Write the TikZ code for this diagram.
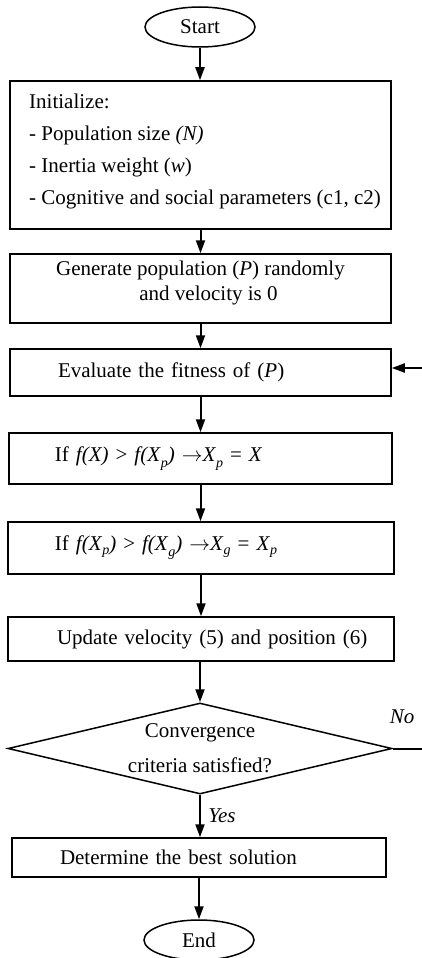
\documentclass[tikz,border=0pt]{standalone}
\usepackage{fontspec}
\setmainfont{Liberation Serif}
\usetikzlibrary{arrows.meta,shapes.geometric}
\newcommand{\lsub}[1]{\raisebox{-6pt}{\fontsize{14}{14}\selectfont\textit{#1}}}
\newcommand{\nsub}[1]{\raisebox{-4pt}{\fontsize{14}{14}\selectfont\textit{#1}}}
\begin{document}
\begin{tikzpicture}[x=1pt,y=-1pt,
  font=\fontsize{21}{32}\selectfont,
  box/.style={draw, line width=1.5pt, rectangle, inner sep=0pt},
  lbox/.style={box, align=left, text width=#1, minimum width=#1},
  arr/.style={line width=2pt, -{Triangle[length=13pt,width=9pt]}},
  term/.style={draw, ellipse, line width=1.5pt, minimum width=110pt, minimum height=40pt, inner sep=0pt},
  lab/.style={font=\fontsize{21}{24}\selectfont\itshape}]
\useasboundingbox (0,0) rectangle (422,958);

\node[term] (start) at (200,27) {Start};

\node[box, minimum width=381pt, minimum height=148pt, align=left] (init) at (200.5,155)
 {\hspace*{9pt}Initialize:\\
  \hspace*{9pt}- Population size \textit{(N)}\\
  \hspace*{9pt}- Inertia weight (\textit{w})\\
  \hspace*{9pt}- Cognitive and social parameters (c1, c2)\\[-20pt]\mbox{}};

\node[box, minimum width=381pt, minimum height=69pt, align=center] (gen) at (200.5,288.5)
 {Generate population (\textit{P}) randomly\\[-7pt]
  \hspace*{16pt}and velocity is 0\\[-16pt]\mbox{}};

\node[lbox=381pt, minimum height=47pt] (eval) at (200.5,372.5)
 {\hspace*{48pt}Evaluate the fitness of (\textit{P})};

\node[lbox=383pt, minimum height=51pt] (if1) at (200.5,458.5)
 {\hspace*{46pt}If \textit{f(X)} > \textit{f(X}\lsub{p}\textit{)} $\rightarrow$\textit{X}\lsub{p} = \textit{X}};

\node[lbox=386pt, minimum height=52pt] (if2) at (201,548)
 {\hspace*{47pt}If \textit{f(X}\nsub{p}\textit{)} > \textit{f(X}\lsub{g}\textit{)} $\rightarrow$\textit{X}\nsub{g} = \textit{X}\nsub{p}};

\node[lbox=386pt, minimum height=44pt] (upd) at (201,639)
 {\hspace*{49pt}Update velocity (5) and position (6)};

\node[draw, diamond, line width=1.5pt, minimum width=384pt, minimum height=91pt, inner sep=0pt] (dec) at (200,748.5) {};
\node[align=center] (dectext) at (dec.center) {Convergence\\[3pt]criteria satisfied?};

\node[lbox=374pt, minimum height=39pt] (det) at (199,857.5)
 {\hspace*{48pt}Determine the best solution};

\node[term] (end) at (199,940) {End};

\coordinate (fbout) at (422,748.5);
\coordinate (fbin) at (422,368);

\draw[arr] (start.south) -- (start.south |- init.north);
\draw[arr] (init.south) -- (init.south |- gen.north);
\draw[arr] (gen.south) -- (gen.south |- eval.north);
\draw[arr] (eval.south) -- (eval.south |- if1.north);
\draw[arr] (if1.south) -- (if1.south |- if2.north);
\draw[arr] (if2.south) -- (if2.south |- upd.north);
\draw[arr] (upd.south -| dec.north) -- (dec.north);
\draw[arr] (dec.south) -- node[lab, right=4pt] (yes) {Yes} (dec.south |- det.north);
\draw[arr] (det.south) -- (end.north);
\draw[line width=2pt] (dec.east) -- (fbout);
\node[lab] (no) at (402,717) {No};
\draw[arr] (fbin) -- (fbin -| eval.east);
\end{tikzpicture}
\end{document}
